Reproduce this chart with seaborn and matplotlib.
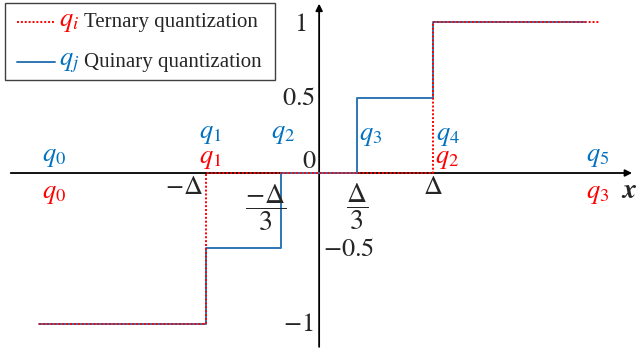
import matplotlib
matplotlib.use('Agg')
import matplotlib.pyplot as plt
import seaborn as sns
import pandas as pd
from matplotlib.patches import Rectangle
from matplotlib.lines import Line2D

# step breakpoints, in units of Delta
ternary_x = [-2.47, -1.0, 1.0, 2.47]
ternary_y = [-1.0, 0.0, 1.0, 1.0]
quinary_x = [-2.47, -1.0, -1/3, 1/3, 1.0, 2.34]
quinary_y = [-1.0, -0.5, 0.0, 0.5, 1.0, 1.0]

# level labels: (text, x, y)
blue_labels = [('q_0', -2.33, 0.10), ('q_1', -0.96, 0.25), ('q_2', -0.317, 0.25),
               ('q_3', 0.45, 0.238), ('q_4', 1.13, 0.238), ('q_5', 2.45, 0.10)]
red_labels = [('q_0', -2.33, -0.146), ('q_1', -0.96, 0.086),
              ('q_2', 1.13, 0.086), ('q_3', 2.45, -0.146)]
# y values written beside the axis: (text, x, y, align)
y_ticks = [(r'$1$', -0.11, 0.98, 'right'), (r'$0.5$', -0.03, 0.49, 'right'),
           (r'$-0.5$', 0.03, -0.51, 'left'), (r'$-1$', -0.05, -1.007, 'right')]

RED = '#FF0000'
BLUE = '#0070C0'

sns.set_style('white')
plt.rcParams['font.family'] = ['Liberation Serif', 'DejaVu Serif']
plt.rcParams['mathtext.fontset'] = 'stix'

fig = plt.figure(figsize=(6.36, 3.51), dpi=100)
ax = fig.add_axes([0, 0, 1, 1])
ax.set_xlim(-2.81, 2.79)
ax.set_ylim(-1.179, 1.146)
ax.axis('off')

dq = pd.DataFrame({'x': quinary_x, 'y': quinary_y})
dt = pd.DataFrame({'x': ternary_x, 'y': ternary_y})
sns.lineplot(data=dq, x='x', y='y', ax=ax, color='#2E75B6', lw=1.4,
             drawstyle='steps-post', zorder=3)
sns.lineplot(data=dt, x='x', y='y', ax=ax, color=RED, lw=1.4,
             drawstyle='steps-post', linestyle=(0, (1, 1)), zorder=4)

# axes with arrows
ax.annotate('', xy=(2.78, 0), xytext=(-2.74, 0),
            arrowprops=dict(arrowstyle='-|>', lw=1.3, color='black', mutation_scale=10), zorder=2)
ax.annotate('', xy=(0, 1.14), xytext=(0, -1.17),
            arrowprops=dict(arrowstyle='-|>', lw=1.3, color='black', mutation_scale=10), zorder=2)

fs = 19
for t, x, y in blue_labels:
    ax.text(x, y, '$' + t + '$', color=BLUE, fontsize=fs, ha='center', va='center')
for t, x, y in red_labels:
    ax.text(x, y, '$' + t + '$', color=RED, fontsize=fs, ha='center', va='center')
for t, x, y, a in y_ticks:
    ax.text(x, y, t, fontsize=fs, ha=a, va='center')
ax.text(-0.02, 0.07, r'$0$', fontsize=fs, ha='right', va='center')
ax.text(2.73, -0.12, r'$\boldsymbol{x}$', fontsize=20, ha='center', va='center')
ax.text(-1.02, -0.10, r'$-\Delta$', fontsize=fs, ha='right', va='center')
ax.text(1.0, -0.10, r'$\Delta$', fontsize=fs, ha='center', va='center')
ax.text(-0.476, -0.23, r'$\dfrac{-\Delta}{3}$', fontsize=20, ha='center', va='center')
ax.text(0.335, -0.22, r'$\dfrac{\Delta}{3}$', fontsize=20, ha='center', va='center')

# legend box
W, H = 636.0, 351.0
def fx(px):
    return px / W
def fy(py):
    return 1 - py / H
fig.patches.append(Rectangle((fx(5), fy(80)), (275 - 5) / W, (80 - 3) / H,
                             transform=fig.transFigure, fill=False, ec='#404040', lw=1.0))
fig.lines.append(Line2D([fx(17), fx(55)], [fy(22), fy(22)], transform=fig.transFigure,
                        color=RED, lw=1.4, linestyle=(0, (1, 1))))
fig.lines.append(Line2D([fx(17), fx(55)], [fy(62), fy(62)], transform=fig.transFigure,
                        color='#2E75B6', lw=1.4))
fig.text(fx(59), fy(23), r'$q_i$', color=RED, fontsize=fs, va='center')
fig.text(fx(84), fy(22), 'Ternary quantization', fontsize=15, va='center')
fig.text(fx(59), fy(63), r'$q_j$', color=BLUE, fontsize=fs, va='center')
fig.text(fx(84), fy(62), 'Quinary quantization', fontsize=15, va='center')

plt.savefig('out.png', dpi=100)
